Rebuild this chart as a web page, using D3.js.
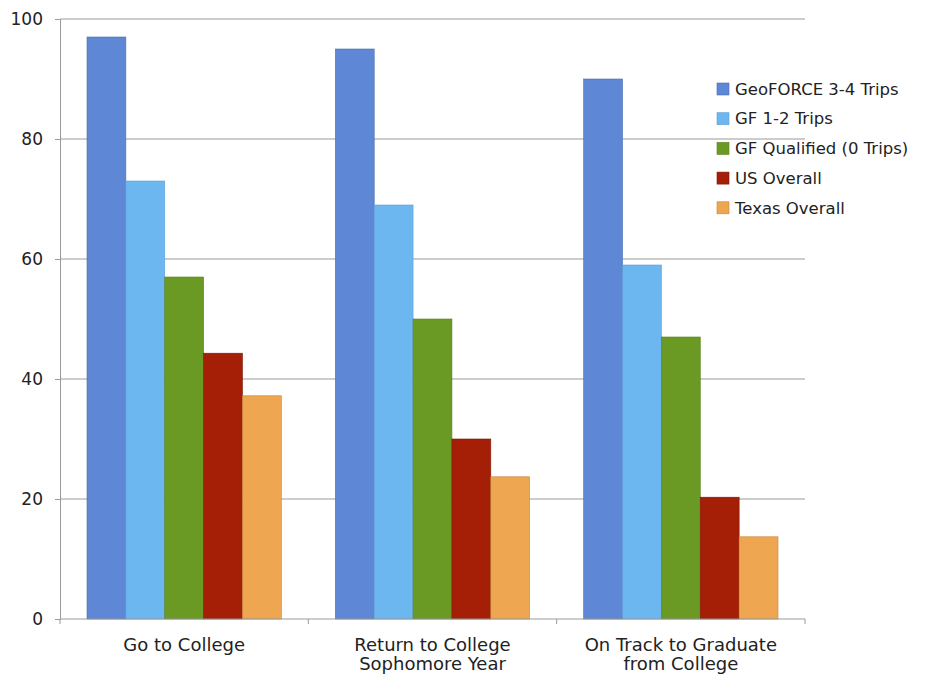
<!DOCTYPE html>
<html>
<head>
<meta charset="utf-8">
<script src="https://cdn.jsdelivr.net/npm/d3@7"></script>
<style>
  body { margin: 0; background: #fff; }
  text { font-family: "DejaVu Sans", sans-serif; fill: #222; }
</style>
</head>
<body>
<svg id="chart" width="925" height="674"></svg>
<script>
// chart values
const categories = [["Go to College"], ["Return to College", "Sophomore Year"], ["On Track to Graduate", "from College"]];
const seriesNames = ["GeoFORCE 3-4 Trips", "GF 1-2 Trips", "GF Qualified (0 Trips)", "US Overall", "Texas Overall"];
const geoforce34 = [97, 95, 90];
const gf12 = [73, 69, 59];
const gfQualified = [57, 50, 47];
const usOverall = [44.3, 30, 20.3];
const texasOverall = [37.2, 23.7, 13.7];
const yTicks = [0, 20, 40, 60, 80, 100];

const seriesValues = [geoforce34, gf12, gfQualified, usOverall, texasOverall];
const colors = ["#5e87d5", "#6cb7f0", "#6b9a24", "#a51f07", "#efa650"];
const strokes = ["#4a6fb4", "#5a9ed6", "#57801b", "#7e1704", "#c8843a"];

const svg = d3.select("#chart");
const plotLeft = 60, plotRight = 805, plotTop = 19, plotBottom = 619;

const x0 = d3.scaleBand().domain(d3.range(categories.length)).range([plotLeft, plotRight]).paddingInner(0).paddingOuter(0);
const x1 = d3.scaleBand().domain(d3.range(seriesNames.length)).range([27, x0.bandwidth() - 27]);
const y = d3.scaleLinear().domain([0, 100]).range([plotBottom, plotTop]);

// gridlines
svg.append("g")
  .selectAll("line")
  .data(yTicks.filter(d => d > 0))
  .enter().append("line")
  .attr("x1", plotLeft).attr("x2", plotRight)
  .attr("y1", d => y(d)).attr("y2", d => y(d))
  .attr("stroke", "#9a9a9a").attr("stroke-width", 1);

// bars
const groups = svg.append("g")
  .selectAll("g")
  .data(categories)
  .enter().append("g")
  .attr("transform", (d, i) => `translate(${x0(i)},0)`);

groups.selectAll("rect")
  .data((d, ci) => seriesValues.map((vals, si) => ({ si: si, v: vals[ci] })))
  .enter().append("rect")
  .attr("x", d => x1(d.si))
  .attr("y", d => y(d.v))
  .attr("width", x1.bandwidth())
  .attr("height", d => y(0) - y(d.v))
  .attr("fill", d => colors[d.si])
  .attr("stroke", d => strokes[d.si])
  .attr("stroke-width", 0.6);

// y axis
const yAxis = svg.append("g")
  .attr("transform", `translate(${plotLeft},0)`)
  .call(d3.axisLeft(y).tickValues(yTicks).tickSize(5).tickPadding(12));
yAxis.select(".domain").attr("stroke", "#9a9a9a");
yAxis.selectAll(".tick line").attr("stroke", "#9a9a9a");
yAxis.selectAll("text").style("font-size", "17px").attr("fill", "#222");

// x axis
const xAxis = svg.append("g")
  .attr("transform", `translate(0,${plotBottom})`);
xAxis.append("line")
  .attr("x1", plotLeft).attr("x2", plotRight)
  .attr("stroke", "#9a9a9a");
xAxis.selectAll("line.tk")
  .data(d3.range(categories.length + 1))
  .enter().append("line")
  .attr("class", "tk")
  .attr("x1", i => plotLeft + i * x0.bandwidth())
  .attr("x2", i => plotLeft + i * x0.bandwidth())
  .attr("y1", 0).attr("y2", 5)
  .attr("stroke", "#9a9a9a");

xAxis.selectAll("text")
  .data(categories)
  .enter().append("text")
  .attr("x", (d, i) => x0(i) + x0.bandwidth() / 2)
  .attr("y", 32)
  .attr("text-anchor", "middle")
  .style("font-size", "18px")
  .each(function (d) {
    d.forEach((line, k) => {
      d3.select(this).append("tspan")
        .attr("x", d3.select(this).attr("x"))
        .attr("dy", k === 0 ? 0 : 19)
        .text(line);
    });
  });

// legend
const legend = svg.append("g").attr("transform", "translate(717,83)");
const items = legend.selectAll("g")
  .data(seriesNames)
  .enter().append("g")
  .attr("transform", (d, i) => `translate(0,${i * 29.7})`);
items.append("rect")
  .attr("width", 12).attr("height", 12)
  .attr("fill", (d, i) => colors[i])
  .attr("stroke", (d, i) => strokes[i])
  .attr("stroke-width", 0.6);
items.append("text")
  .attr("x", 18).attr("y", 6).attr("dy", "0.35em")
  .style("font-size", "16.5px")
  .text(d => d);
</script>
</body>
</html>
